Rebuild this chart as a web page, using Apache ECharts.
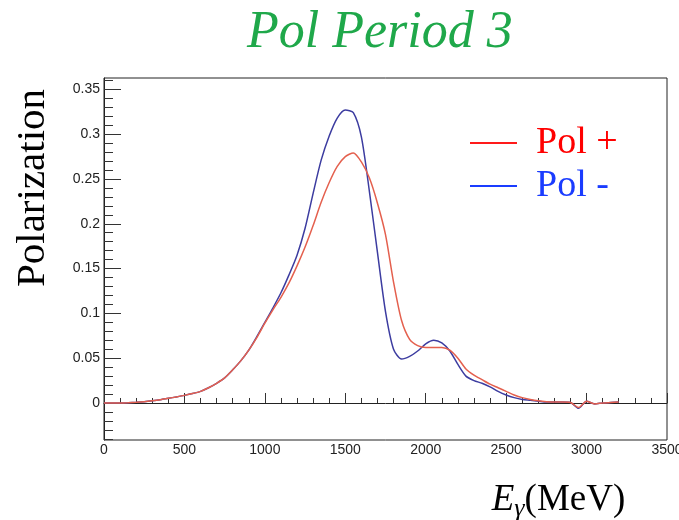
<!DOCTYPE html>
<html>
<head>
<meta charset="utf-8">
<script src="https://cdn.jsdelivr.net/npm/echarts@6/dist/echarts.min.js"></script>
<style>html,body{margin:0;padding:0;background:#fff}#c{width:679px;height:520px}</style>
</head>
<body>
<div id="c"></div>
<script>
const energies = [0,50,100,150,200,250,300,350,400,450,500,550,600,650,700,750,800,850,900,950,1000,1050,1100,1150,1200,1250,1300,1350,1400,1450,1500,1550,1600,1650,1700,1750,1800,1850,1900,1950,2000,2050,2100,2150,2200,2250,2300,2350,2400,2450,2500,2550,2600,2650,2700,2750,2800,2850,2900,2950,3000,3050,3100,3150,3200];
const polPlus = [0,0,0,0.0003,0.0008,0.0015,0.0025,0.0037,0.0052,0.0068,0.0085,0.0105,0.013,0.017,0.022,0.028,0.037,0.047,0.059,0.073,0.089,0.104,0.118,0.134,0.153,0.174,0.198,0.224,0.246,0.264,0.275,0.279,0.269,0.251,0.223,0.188,0.135,0.092,0.071,0.064,0.062,0.062,0.062,0.059,0.050,0.038,0.031,0.026,0.021,0.017,0.013,0.009,0.006,0.004,0.0025,0.0015,0.001,0.001,0.0005,-0.005,0.002,-0.001,0,0.0005,0.001];
const polMinus = [0,0,0,0.0003,0.0008,0.0015,0.0025,0.0037,0.0052,0.0068,0.0085,0.0105,0.013,0.017,0.022,0.028,0.037,0.047,0.059,0.074,0.090,0.106,0.123,0.143,0.165,0.195,0.234,0.271,0.298,0.318,0.327,0.324,0.297,0.236,0.168,0.102,0.060,0.049,0.052,0.058,0.066,0.070,0.067,0.058,0.043,0.030,0.025,0.022,0.018,0.013,0.009,0.006,0.004,0.003,0.002,0.001,0.001,0.001,0.0005,-0.006,0.002,-0.001,0,0.0005,0.001];
const seriesNames = ['Pol +', 'Pol -'];
const xTicks = {min: 0, max: 3500, interval: 500};
const yMajor = {min: 0, max: 0.35, interval: 0.05};
const yMinor = {min: -0.04, max: 0.36, interval: 0.01};
const yRange = {min: -0.0413, max: 0.3627};

const P = {left: 104, top: 78, width: 563, height: 362};
const PB = P.top + P.height;
function py(v) { return PB - (v - yRange.min) / (yRange.max - yRange.min) * P.height; }

const serif = '"Liberation Serif", "DejaVu Serif", serif';
const sans = '"Liberation Sans", Arial, sans-serif';
const noBounds = {containLabel: false, outerBoundsMode: 'none'};

const chart = echarts.init(document.getElementById('c'));
chart.setOption({
  animation: false,
  title: {
    text: 'Pol Period 3', left: 242, top: 2,
    textStyle: {fontFamily: serif, fontStyle: 'italic', fontWeight: 'normal', fontSize: 52, color: '#1fa84a'}
  },
  legend: {
    orient: 'vertical', left: 465, top: 119, itemWidth: 47, itemHeight: 2, itemGap: 5,
    icon: 'rect',
    textStyle: {fontFamily: serif, fontSize: 38, padding: [0, 0, 0, 14]},
    data: [
      {name: seriesNames[0], icon: 'rect', itemStyle: {color: '#ff1a1a'}, textStyle: {color: '#ff0000'}},
      {name: seriesNames[1], icon: 'rect', itemStyle: {color: '#1a3cff'}, textStyle: {color: '#1a3cff'}}
    ]
  },
  grid: [
    Object.assign({left: P.left, top: P.top, width: P.width, height: P.height, show: true, borderColor: '#222', borderWidth: 1}, noBounds),
    Object.assign({left: P.left, top: py(yMajor.max), width: P.width, height: py(yMajor.min) - py(yMajor.max)}, noBounds),
    Object.assign({left: P.left, top: py(yMinor.max), width: P.width, height: py(yMinor.min) - py(yMinor.max)}, noBounds)
  ],
  xAxis: [
    {
      gridIndex: 0, type: 'value', min: xTicks.min, max: xTicks.max, interval: xTicks.interval,
      name: '{e|E}{g|γ}{m|(MeV)}', nameLocation: 'middle', nameGap: 38,
      nameTextStyle: {
        align: 'center', verticalAlign: 'top', padding: [0, 0, 0, 346],
        rich: {
          e: {fontFamily: serif, fontStyle: 'italic', fontSize: 37, lineHeight: 44, color: '#000'},
          g: {fontFamily: serif, fontStyle: 'italic', fontSize: 26, lineHeight: 26, verticalAlign: 'bottom', color: '#000'},
          m: {fontFamily: serif, fontSize: 37, lineHeight: 44, color: '#000'}
        }
      },
      axisLine: {show: true, lineStyle: {color: '#222', width: 1}},
      axisTick: {show: true, inside: true, length: 10, lineStyle: {color: '#333'}},
      minorTick: {show: true, splitNumber: 5, length: 5, lineStyle: {color: '#333'}},
      axisLabel: {fontFamily: sans, fontSize: 14, color: '#222', margin: 3, formatter: v => String(v)},
      splitLine: {show: false}
    },
    {gridIndex: 1, type: 'value', min: xTicks.min, max: xTicks.max, show: false},
    {gridIndex: 2, type: 'value', min: xTicks.min, max: xTicks.max, show: false}
  ],
  yAxis: [
    {
      gridIndex: 0, type: 'value', min: yRange.min, max: yRange.max,
      name: 'Polarization', nameLocation: 'middle', nameGap: 50,
      nameTextStyle: {fontFamily: serif, fontSize: 41, color: '#000', padding: [0, 0, 0, 142]},
      axisLine: {show: true, lineStyle: {color: '#222', width: 1}},
      axisTick: {show: false}, axisLabel: {show: false}, splitLine: {show: false}
    },
    {
      gridIndex: 1, type: 'value', min: yMajor.min, max: yMajor.max, interval: yMajor.interval,
      axisLine: {show: false},
      axisTick: {show: true, inside: true, length: 17, lineStyle: {color: '#333'}},
      axisLabel: {fontFamily: sans, fontSize: 14, color: '#222', margin: 4,
        formatter: v => String(+v.toFixed(2))},
      splitLine: {show: false}
    },
    {
      gridIndex: 2, type: 'value', min: yMinor.min, max: yMinor.max, interval: yMinor.interval,
      axisLine: {show: false},
      axisTick: {show: true, inside: true, length: 9, lineStyle: {color: '#333'}},
      axisLabel: {show: false}, splitLine: {show: false}
    }
  ],
  series: [
    {
      name: seriesNames[1], type: 'line', xAxisIndex: 0, yAxisIndex: 0, showSymbol: false, smooth: 0.25,
      lineStyle: {color: '#3c3ca0', width: 1.5}, itemStyle: {color: '#1a3cff'},
      data: energies.map((e, i) => [e, polMinus[i]])
    },
    {
      name: seriesNames[0], type: 'line', xAxisIndex: 0, yAxisIndex: 0, showSymbol: false, smooth: 0.25,
      lineStyle: {color: '#e4604e', width: 1.5}, itemStyle: {color: '#ff1a1a'},
      data: energies.map((e, i) => [e, polPlus[i]])
    }
  ]
});
</script>
</body>
</html>
